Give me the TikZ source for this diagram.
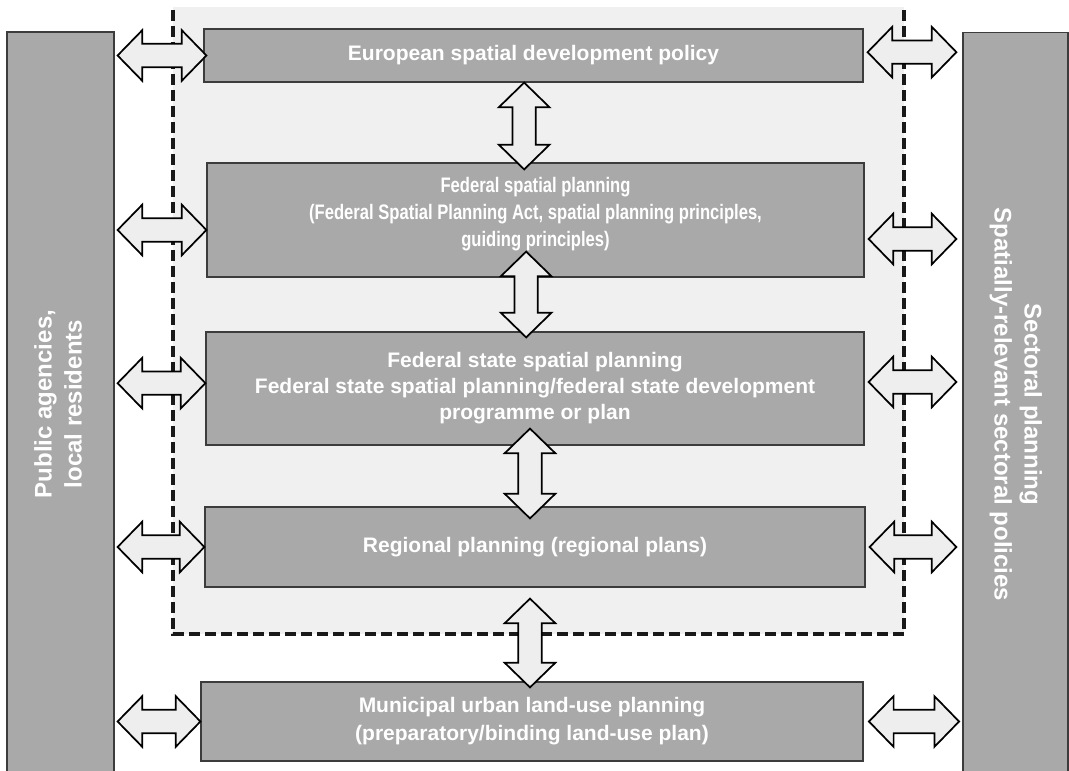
\documentclass[tikz,border=0pt]{standalone}
\usepackage{fontspec}
\usepackage{graphicx}
\setmainfont{Liberation Sans}
\newfontfamily\narrowsans{Liberation Sans}[FakeStretch=0.79]
\usetikzlibrary{calc}

\definecolor{boxgray}{RGB}{169,169,169}
\definecolor{edgegray}{RGB}{60,60,60}
\definecolor{zonegray}{RGB}{240,240,240}
\definecolor{arrowgray}{RGB}{238,238,238}

% size of the hollow double arrows
\newcommand\fathead{18.5pt}
\newcommand\fatwide{19pt}
\newcommand\fatshaft{8.75pt}

\begin{document}
\begin{tikzpicture}[x=0.75pt,y=0.75pt,yscale=-1,xscale=1,
    level/.style={draw=edgegray, line width=0.9pt, fill=boxgray, text=white, align=center, inner sep=0pt,
      font=\fontsize{15.75}{19.5}\selectfont\bfseries},
    side/.style={draw=edgegray, line width=0.9pt, fill=boxgray, text=white, inner sep=0pt,
      font=\fontsize{18}{22.5}\selectfont\bfseries},
    fatarrow/.style={draw=black, line width=1.3pt, fill=arrowgray, line join=miter,
      to path={
        -- ($($(\tikztostart)!\fathead!(\tikztotarget)$)!\fatwide!90:(\tikztotarget)$)
        -- ($($(\tikztostart)!\fathead!(\tikztotarget)$)!\fatshaft!90:(\tikztotarget)$)
        -- ($($(\tikztotarget)!\fathead!(\tikztostart)$)!\fatshaft!90:(\tikztotarget)$)
        -- ($($(\tikztotarget)!\fathead!(\tikztostart)$)!\fatwide!90:(\tikztotarget)$)
        -- (\tikztotarget)
        -- ($($(\tikztotarget)!\fathead!(\tikztostart)$)!\fatwide!-90:(\tikztotarget)$)
        -- ($($(\tikztotarget)!\fathead!(\tikztostart)$)!\fatshaft!-90:(\tikztotarget)$)
        -- ($($(\tikztostart)!\fathead!(\tikztotarget)$)!\fatshaft!-90:(\tikztotarget)$)
        -- ($($(\tikztostart)!\fathead!(\tikztotarget)$)!\fatwide!-90:(\tikztotarget)$)
        -- cycle}},
    zoneline/.style={draw=black!90, line width=3pt, dash pattern=on 8pt off 4pt}]
    \useasboundingbox (0,0) rectangle (1069,770);
    \clip (0,0) rectangle (1069,770);

    % Spatial planning zone
    \fill[zonegray] (173,7) rectangle (904,634);
    \draw[zoneline] (173,10) -- (173,634) -- (904,634) -- (904,10);

    % Planning levels
    \node[level, minimum width=494.25pt, minimum height=39.75pt] (b1) at (533.5,55.5) {European spatial development policy};
    \node[level, minimum width=492.75pt, minimum height=85.5pt, font=\narrowsans\fontsize{15.75}{20}\selectfont\bfseries] (b2) at (535.5,220)
      {\raisebox{4.5pt}[\height][\depth]{\begin{tabular}{@{}c@{}}Federal spatial planning\\(Federal Spatial Planning Act, spatial planning principles,\\guiding principles)\end{tabular}}};
    \node[level, minimum width=493.5pt, minimum height=84.75pt] (b3) at (535,388.5)
      {Federal state spatial planning\\Federal state spatial planning/federal state development\\programme or plan};
    \node[level, minimum width=495pt, minimum height=60pt] (b4) at (535,547) {Regional planning (regional plans)};
    \node[level, minimum width=496.5pt, minimum height=59.25pt, font=\fontsize{15.75}{21}\selectfont\bfseries] (b5) at (532,721.5)
      {Municipal urban land-use planning\\(preparatory/binding land-use plan)};

    % Side bars
    \node[side, minimum width=80.25pt, minimum height=558pt] (pa) at (60.5,404)
      {\rotatebox{90}{\begin{tabular}{@{}c@{}}Public agencies,\\local residents\end{tabular}}};
    \node[side, minimum width=78.75pt, minimum height=558pt] (sp) at (1015.5,404.5)
      {\rotatebox{-90}{\begin{tabular}{@{}c@{}}Sectoral planning\\Spatially-relevant sectoral policies\end{tabular}}};

    % Left arrows (yshift runs downwards here)
    \draw[fatarrow] ([xshift=2.25pt]pa.east |- b1.west) to ([xshift=2.25pt]b1.west);
    \draw[fatarrow] ([xshift=2.25pt,yshift=7.5pt]pa.east |- b2.west) to ([yshift=7.5pt]b2.west);
    \draw[fatarrow] ([xshift=2.25pt,yshift=-4pt]pa.east |- b3.west) to ([yshift=-4pt]b3.west);
    \draw[fatarrow] ([xshift=2.25pt]pa.east |- b4.west) to (b4.west);
    \draw[fatarrow] ([xshift=2.25pt]pa.east |- b5.west) to (b5.west);

    % Right arrows
    \draw[fatarrow] ([xshift=3pt,yshift=-2.5pt]b1.east) to ([xshift=-4.5pt,yshift=-2.5pt]sp.west |- b1.east);
    \draw[fatarrow] ([xshift=3pt,yshift=14.25pt]b2.east) to ([xshift=-4.5pt,yshift=14.25pt]sp.west |- b2.east);
    \draw[fatarrow] ([xshift=3pt,yshift=-4.9pt]b3.east) to ([xshift=-4.5pt,yshift=-4.9pt]sp.west |- b3.east);
    \draw[fatarrow] ([xshift=3pt]b4.east) to ([xshift=-4.5pt]sp.west |- b4.east);
    \draw[fatarrow] ([xshift=4pt]b5.east) to ([xshift=-2.5pt]sp.west |- b5.east);

    % Arrows between levels
    \draw[fatarrow] ([xshift=-7pt]b1.south) to ([xshift=-7pt,yshift=5.25pt]b1.south |- b2.north);
    \draw[fatarrow] ([xshift=-7pt,yshift=-19.5pt]b2.south) to ([xshift=-7pt,yshift=4.5pt]b2.south |- b3.north);
    \draw[fatarrow] ([xshift=-3.75pt,yshift=-12.75pt]b3.south) to ([xshift=-3.75pt,yshift=9pt]b3.south |- b4.north);
    \draw[fatarrow] ([xshift=-3.75pt,yshift=8.25pt]b4.south) to ([xshift=-3.75pt,yshift=4.5pt]b4.south |- b5.north);
\end{tikzpicture}
\end{document}
